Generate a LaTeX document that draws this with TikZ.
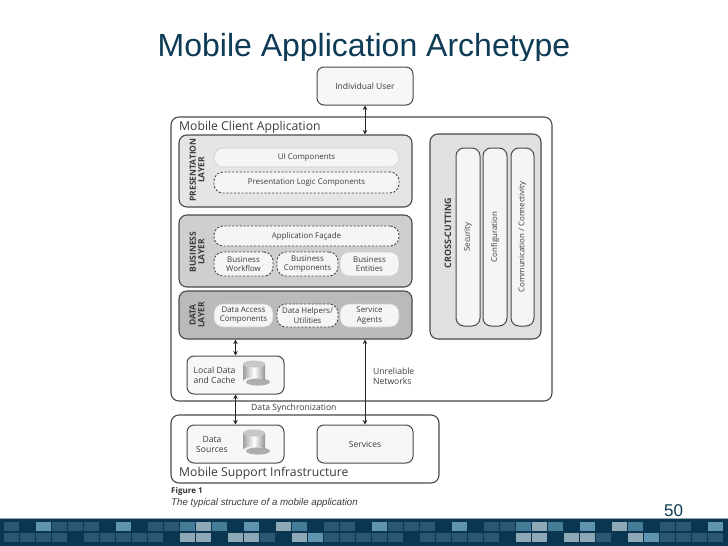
\documentclass[tikz,border=0pt]{standalone}
\usepackage{fontspec}
\setmainfont{Open Sans}
\newfontfamily\arialf{Liberation Sans}
\usetikzlibrary{arrows.meta}
\definecolor{navy}{HTML}{0A3652}
\definecolor{titlec}{HTML}{0E3B55}
\definecolor{lineg}{HTML}{4A4A4A}
\definecolor{txtg}{HTML}{3C3C3C}
\definecolor{cdark}{HTML}{2A5872}
\definecolor{cmid}{HTML}{457C98}
\definecolor{clite}{HTML}{5F93AF}
\definecolor{cgrey}{HTML}{8FA8B6}
\tikzset{
  outerbox/.style={draw=lineg,line width=1.1pt,fill=white,rounded corners=8pt},
  layerbox/.style={draw=lineg,line width=1.1pt,rounded corners=8pt},
  pill/.style={draw=white!80!black,line width=0.6pt,fill=white!96!black,rounded corners=9pt,text=txtg,font=\fontsize{7.9}{9.2}\selectfont,align=center},
  dashpill/.style={pill,draw=lineg,line width=0.9pt,dash pattern=on 2.2pt off 1.6pt},
  plainbox/.style={draw=lineg,line width=1pt,fill=white!97!black,rounded corners=7pt,text=txtg,font=\fontsize{8.5}{10}\selectfont,align=center},
  colbox/.style={pill,rounded corners=8pt,draw=lineg,line width=1pt},
  heading/.style={text=txtg,font=\fontsize{12.2}{14}\selectfont,inner sep=0pt,anchor=west},
  layerlabel/.style={text=txtg,font=\bfseries\fontsize{8.5}{8.6}\selectfont,align=center,rotate=90,inner sep=0pt},
  smalltext/.style={text=txtg,font=\fontsize{8.6}{10}\selectfont,inner sep=0pt},
  link/.style={draw=black!85,line width=0.8pt,{Stealth[length=4.5pt,width=4.5pt]}-{Stealth[length=4.5pt,width=4.5pt]}},
}
\newcommand{\bx}[7]{%
  \pgfmathsetmacro{\cxx}{(#3+#5)/2}\pgfmathsetmacro{\cyy}{(#4+#6)/2}%
  \pgfmathsetmacro{\bwd}{#5-#3}\pgfmathsetmacro{\bht}{#6-#4}%
  \node[#2,minimum width=\bwd pt,minimum height=\bht pt,inner sep=0pt] (#1) at (\cxx,\cyy) {#7};}
\newcommand{\dbicon}[2]{%
  \fill[black!32] (#1+15,#2+22) ellipse (12 and 3.6);
  \shade[left color=black!38,right color=black!42,middle color=white]
    (#1,#2+4) -- (#1,#2+21) arc (180:360:11 and 3.5) -- (#1+22,#2+4) arc (0:180:11 and 3.5) -- cycle;
  \fill[black!22] (#1+11,#2+4) ellipse (11 and 3.5);
}
\newcommand{\cellrow}[3]{\foreach \i/\c in {#3} {\pgfmathsetmacro{\xx}{3.5+16*\i}\fill[\c] (\xx,#1) rectangle +(15,#2);}}
\begin{document}
\begin{tikzpicture}[x=1pt,y=-1pt]
\useasboundingbox (0,0) rectangle (728,546);
\fill[white] (0,0) rectangle (728,546);
% footer band
\fill[navy] (0,519) rectangle (728,546);
\fill[white!55!navy] (0,518.4) rectangle (728,519.4);
\cellrow{522}{9}{0/cdark,2/clite,3/cdark,4/cdark,5/cdark,7/clite,9/cdark,10/cdark,11/cmid,12/cgrey,13/cmid,15/clite,17/cgrey,18/cmid,20/cdark,21/cdark,23/clite,24/cdark,25/cdark,26/cdark,28/clite,30/cdark,31/cdark,32/cmid,33/cgrey,34/cmid,36/clite,38/cgrey,39/cmid,41/cdark,42/cdark,44/clite}
\cellrow{533}{9}{0/cdark,1/cdark,2/cdark,3/cdark,5/cdark,6/cdark,7/cdark,8/cdark,9/cdark,11/cgrey,12/cgrey,14/cgrey,15/cgrey,16/cdark,18/cgrey,19/clite,20/cdark,21/cdark,22/cdark,23/cdark,24/cdark,26/cdark,27/cdark,28/cdark,29/cdark,30/cdark,32/cgrey,33/cgrey,35/cgrey,36/cgrey,37/cdark,39/cgrey,40/clite,41/cdark,42/cdark,43/cdark,44/cdark}
% title (its descenders are cut off in the reference) and page number
\node[text=titlec,font=\arialf\fontsize{32}{34}\selectfont,inner sep=0pt,anchor=base west] (title) at (157.5,56.5) {Mobile Application Archetype};
\fill[white] (150,60.5) rectangle (580,66);
\node[text=titlec,font=\arialf\fontsize{17}{19}\selectfont,inner sep=0pt,anchor=base west] (pageno) at (664,516.7) {50};
% outer containers
\bx{client}{outerbox}{171}{117}{552}{401}{}
\bx{support}{outerbox}{171}{415}{439}{483}{}
\bx{user}{plainbox}{317}{67}{413}{105}{Individual User}
\node[heading] (clientlabel) at (179,127) {Mobile Client Application};
\node[heading] (supportlabel) at (179,473.5) {Mobile Support Infrastructure};
% presentation layer
\bx{pres}{layerbox,fill=black!10}{179}{135}{412}{207}{}
\node[layerlabel] (preslabel) at (197,170) {PRESENTATION\\LAYER};
\bx{ui}{pill}{214}{148}{399}{167}{UI Components}
\bx{plc}{dashpill}{214}{172}{399}{193}{Presentation Logic Components}
% business layer
\bx{bus}{layerbox,fill=black!19}{179}{215}{412}{287}{}
\node[layerlabel] (buslabel) at (197,252) {BUSINESS\\LAYER};
\bx{facade}{dashpill}{214}{226}{399}{246}{Application Façade}
\bx{workflow}{dashpill}{214}{252}{273}{276}{Business\\Workflow}
\bx{comps}{dashpill}{277}{252}{338}{276}{Business\\Components}
\bx{entities}{pill}{340}{252}{399}{276}{Business\\Entities}
% data layer
\bx{data}{layerbox,fill=black!27}{179}{291}{412}{339}{}
\node[layerlabel] (datalabel) at (197,315) {DATA\\LAYER};
\bx{access}{pill}{214}{304}{273}{327}{Data Access\\Components}
\bx{helpers}{dashpill}{277}{304}{338}{327}{Data Helpers/\\Utilities}
\bx{agents}{pill}{340}{304}{399}{327}{Service\\Agents}
% cross-cutting
\bx{cross}{layerbox,fill=black!12}{430}{134}{541}{339}{}
\node[layerlabel,font=\bfseries\fontsize{8.9}{9}\selectfont] (crosslabel) at (448,233) {CROSS-CUTTING};
\bx{security}{colbox}{456}{148}{480}{326}{\rotatebox{90}{Security}}
\bx{config}{colbox}{483}{148}{507}{326}{\rotatebox{90}{Configuration}}
\bx{comm}{colbox}{511}{148}{534}{326}{\rotatebox{90}{Communication / Connectivity}}
% stores
\bx{local}{plainbox}{187}{356}{284}{394}{}
\node[smalltext,align=center] (locallabel) at (214.5,375) {Local Data\\and Cache};
\dbicon{243}{360}
\bx{sources}{plainbox}{187}{425}{284}{463}{}
\node[smalltext,align=center] (sourceslabel) at (212,444) {Data\\Sources};
\dbicon{243}{429}
\bx{services}{plainbox}{317}{425}{413}{463}{Services}
% connectors
\draw[link] (user.south) -- (user.south |- pres.north);
\draw[link] (local.north) -- (local.north |- data.south);
\draw[link] (local.south) -- (sources.north);
\draw[link] (services.north) -- (services.north |- data.south);
% free labels
\node[smalltext,align=left,anchor=west] (unrel) at (373,376) {Unreliable\\Networks};
\node[smalltext,anchor=west] (sync) at (251,408) {Data Synchronization};
\node[text=black!80,font=\bfseries\fontsize{8}{9}\selectfont,inner sep=0pt,anchor=west] (fig) at (171,491.5) {Figure 1};
\node[text=txtg,font=\arialf\itshape\fontsize{9.7}{11}\selectfont,inner sep=0pt,anchor=west] (cap) at (171,503) {The typical structure of a mobile application};
\end{tikzpicture}
\end{document}
